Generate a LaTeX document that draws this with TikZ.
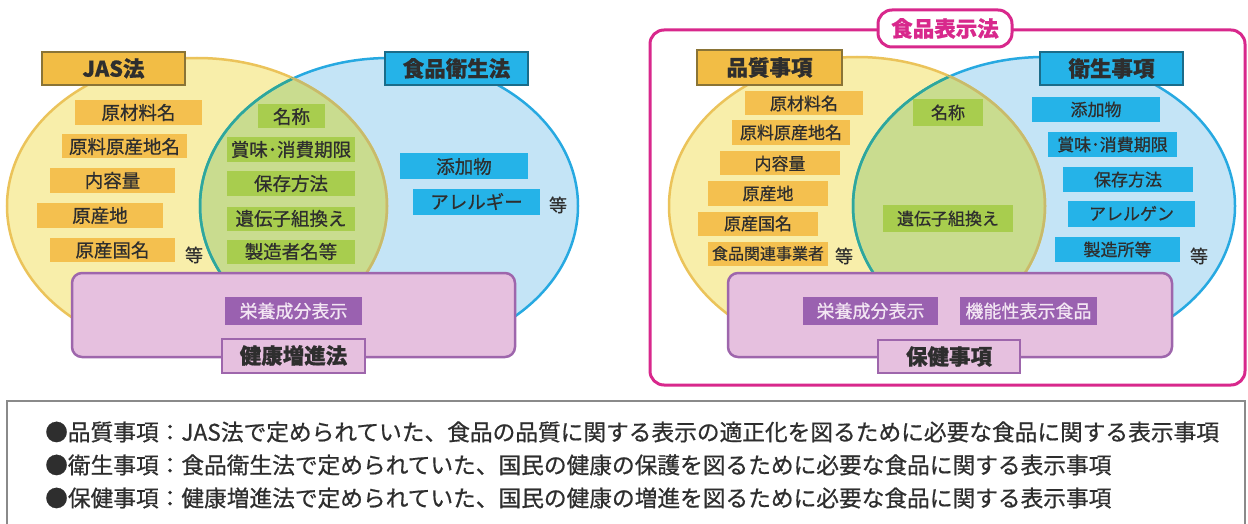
\documentclass[tikz,border=0pt]{standalone}
\usepackage{fontspec}
\setmainfont{Noto Sans CJK JP}[RawFeature={embolden=0.7}]
\definecolor{yfill}{HTML}{F8EEAA}
\definecolor{yline}{HTML}{EBC35A}
\definecolor{bfill}{HTML}{C4E4F6}
\definecolor{bline}{HTML}{27A9E1}
\definecolor{gfill}{HTML}{C9DC8F}
\definecolor{teal1}{HTML}{2FA79A}
\definecolor{olive1}{HTML}{C7BB6C}
\definecolor{orng}{HTML}{F4C04F}
\definecolor{olab}{HTML}{F2BD45}
\definecolor{olabline}{HTML}{8A7436}
\definecolor{gitm}{HTML}{A8CD4E}
\definecolor{bitm}{HTML}{25B3E8}
\definecolor{blabline}{HTML}{1A6C8A}
\definecolor{pfill}{HTML}{E6C0DF}
\definecolor{pline}{HTML}{9E66AC}
\definecolor{pitm}{HTML}{9A61B0}
\definecolor{pitmtxt}{HTML}{F3E6F3}
\definecolor{mag}{HTML}{D8288C}
\definecolor{txt}{HTML}{2E2E2E}
\definecolor{frgray}{HTML}{8A8A8A}
\tikzset{
  itm/.style={inner sep=0pt, font=\fontsize{18.5}{20}\selectfont, text=txt},
  itms/.style={inner sep=0pt, font=\fontsize{17}{19}\selectfont, text=txt},
  oitm/.style={itm, fill=orng},
  gitmst/.style={itm, fill=gitm},
  bitmst/.style={itm, fill=bitm},
  oitms/.style={itms, fill=orng},
  gitmss/.style={itms, fill=gitm},
  bitmss/.style={itms, fill=bitm},
  pitmst/.style={inner sep=0pt, fill=pitm, text=pitmtxt, font=\fontsize{18}{20}\selectfont},
  lab/.style={inner sep=0pt, line width=2pt, font=\bfseries\fontsize{21.5}{24}\selectfont, text=txt},
  olabst/.style={lab, fill=olab, draw=olabline},
  blabst/.style={lab, fill=bitm, draw=blabline},
  plabst/.style={lab, fill=pfill, draw=pline},
  etc/.style={inner sep=0pt, font=\fontsize{18}{20}\selectfont, text=txt},
  pbox/.style={fill=pfill, draw=pline, line width=2.5pt, rounded corners=10pt},
  note/.style={anchor=west, inner sep=0pt, font=\fontsize{22.7}{25}\selectfont, text=txt}
}
\begin{document}
\begin{tikzpicture}[x=1pt,y=-1pt]
\useasboundingbox (0,0) rectangle (1248,524);
% ================= LEFT DIAGRAM =================
\fill[yfill] (197,206) ellipse [x radius=190pt, y radius=148pt];
\fill[bfill] (389,206) ellipse [x radius=189pt, y radius=148pt];
\begin{scope}
  \clip (197,206) ellipse [x radius=190pt, y radius=148pt];
  \fill[gfill] (389,206) ellipse [x radius=189pt, y radius=148pt];
\end{scope}
\draw[yline, line width=2.5pt] (197,206) ellipse [x radius=190pt, y radius=148pt];
\draw[bline, line width=2.5pt] (389,206) ellipse [x radius=189pt, y radius=148pt];
\begin{scope}
  \clip (197,206) ellipse [x radius=191pt, y radius=149pt];
  \draw[teal1, line width=2.5pt] (389,206) ellipse [x radius=189pt, y radius=148pt];
\end{scope}
\begin{scope}
  \clip (389,206) ellipse [x radius=190pt, y radius=149pt];
  \draw[olive1, line width=2.5pt] (197,206) ellipse [x radius=190pt, y radius=148pt];
\end{scope}

\node[olabst, minimum width=143pt, minimum height=33pt] (jas) at (113.5,68.5) {JAS法};
\node[blabst, minimum width=143pt, minimum height=33pt] (eisei) at (456.5,68.5) {食品衛生法};

\node[oitm, minimum width=127pt, minimum height=25pt] (l1) at (138.5,112.5) {原材料名};
\node[oitm, minimum width=125pt, minimum height=24pt] (l2) at (124.5,146.5) {原料原産地名};
\node[oitm, minimum width=125pt, minimum height=25pt] (l3) at (112.5,180.5) {内容量};
\node[oitm, minimum width=126pt, minimum height=25pt] (l4) at (100,215.5) {原産地};
\node[oitm, minimum width=125pt, minimum height=24pt] (l5) at (112.5,250) {原産国名};
\node[etc] (le1) at (194,255) {等};

\node[gitmst, minimum width=67pt, minimum height=24pt] (g1) at (291.5,116.5) {名称};
\node[gitmst, minimum width=128pt, minimum height=25pt] (g2) at (291,149.5) {賞味･消費期限};
\node[gitmst, minimum width=128pt, minimum height=24pt] (g3) at (291,183.5) {保存方法};
\node[gitmst, minimum width=128pt, minimum height=24pt] (g4) at (291,218.5) {遺伝子組換え};
\node[gitmst, minimum width=128pt, minimum height=24pt] (g5) at (291,251.5) {製造者名等};

\node[bitmst, minimum width=128pt, minimum height=26pt] (b1) at (464,166.5) {添加物};
\node[bitmst, minimum width=127pt, minimum height=26pt] (b2) at (476.5,201.5) {アレルギー};
\node[etc] (le2) at (558,205) {等};

\draw[pbox] (72,273) rectangle (515,357);
\node[pitmst, minimum width=137pt, minimum height=28pt] (p1) at (293.5,311) {栄養成分表示};
\node[plabst, minimum width=143pt, minimum height=34pt] (kenko) at (293.5,355.5) {健康増進法};

% ================= RIGHT DIAGRAM =================
\draw[mag, line width=3pt, rounded corners=14pt] (650,30) rectangle (1245,385);
\fill[yfill] (857,206) ellipse [x radius=188pt, y radius=149pt];
\fill[bfill] (1044,206) ellipse [x radius=191pt, y radius=149pt];
\begin{scope}
  \clip (857,206) ellipse [x radius=188pt, y radius=149pt];
  \fill[gfill] (1044,206) ellipse [x radius=191pt, y radius=149pt];
\end{scope}
\draw[yline, line width=2.5pt] (857,206) ellipse [x radius=188pt, y radius=149pt];
\draw[bline, line width=2.5pt] (1044,206) ellipse [x radius=191pt, y radius=149pt];
\begin{scope}
  \clip (857,206) ellipse [x radius=189pt, y radius=150pt];
  \draw[teal1, line width=2.5pt] (1044,206) ellipse [x radius=191pt, y radius=149pt];
\end{scope}
\begin{scope}
  \clip (1044,206) ellipse [x radius=192pt, y radius=150pt];
  \draw[olive1, line width=2.5pt] (857,206) ellipse [x radius=188pt, y radius=149pt];
\end{scope}

\node[draw=mag, fill=white, line width=3pt, rounded corners=14pt, inner sep=0pt,
      minimum width=134pt, minimum height=37pt, text=mag,
      font=\bfseries\fontsize{21.5}{24}\selectfont] (hyoji) at (945,28.5) {食品表示法};

\node[olabst, minimum width=145pt, minimum height=35pt] (hinshitsu) at (769.5,67.5) {品質事項};
\node[blabst, minimum width=143pt, minimum height=33pt] (eiseijiko) at (1111.5,68.5) {衛生事項};

\node[oitms, minimum width=118pt, minimum height=24pt] (r1) at (804,103.5) {原材料名};
\node[oitms, minimum width=118pt, minimum height=25pt] (r2) at (791,132.5) {原料原産地名};
\node[oitms, minimum width=120pt, minimum height=24pt] (r3) at (780,163.5) {内容量};
\node[oitms, minimum width=120pt, minimum height=24pt] (r4) at (768,193.5) {原産地};
\node[oitms, minimum width=120pt, minimum height=24pt] (r5) at (758,223.5) {原産国名};
\node[oitms, minimum width=120pt, minimum height=24pt, font=\fontsize{16}{18}\selectfont] (r6) at (768,253.5) {食品関連事業者};
\node[etc] (re1) at (844,256) {等};

\node[gitmss, minimum width=70pt, minimum height=27pt] (rg1) at (948,112.5) {名称};
\node[gitmss, minimum width=130pt, minimum height=27pt] (rg2) at (948,218.5) {遺伝子組換え};

\node[bitmss, minimum width=128pt, minimum height=25pt] (rb1) at (1096,109.5) {添加物};
\node[bitmss, minimum width=129pt, minimum height=25pt] (rb2) at (1112.5,144.5) {賞味･消費期限};
\node[bitmss, minimum width=130pt, minimum height=25pt] (rb3) at (1128,179.5) {保存方法};
\node[bitmss, minimum width=127pt, minimum height=26pt] (rb4) at (1131.5,213.5) {アレルゲン};
\node[bitmss, minimum width=125pt, minimum height=25pt] (rb5) at (1117.5,249.5) {製造所等};
\node[etc] (re2) at (1199,256) {等};

\draw[pbox] (728,273) rectangle (1172,357);
\node[pitmst, minimum width=135pt, minimum height=28pt] (rp1) at (870.5,311) {栄養成分表示};
\node[pitmst, minimum width=137pt, minimum height=28pt] (rp2) at (1028.5,311) {機能性表示食品};
\node[plabst, minimum width=142pt, minimum height=33pt] (hoken) at (949,356.5) {保健事項};

% ================= NOTE BOX =================
\draw[frgray, line width=1.5pt] (7,524) -- (7,401) -- (1245,401) -- (1245,524);
\draw[frgray, line width=2.5pt] (7,401) -- (1245,401);
\node[note] (n1) at (45,432) {●品質事項：JAS法で定められていた、食品の品質に関する表示の適正化を図るために必要な食品に関する表示事項};
\node[note] (n2) at (45,465) {●衛生事項：食品衛生法で定められていた、国民の健康の保護を図るために必要な食品に関する表示事項};
\node[note] (n3) at (45,498) {●保健事項：健康増進法で定められていた、国民の健康の増進を図るために必要な食品に関する表示事項};
\end{tikzpicture}
\end{document}
